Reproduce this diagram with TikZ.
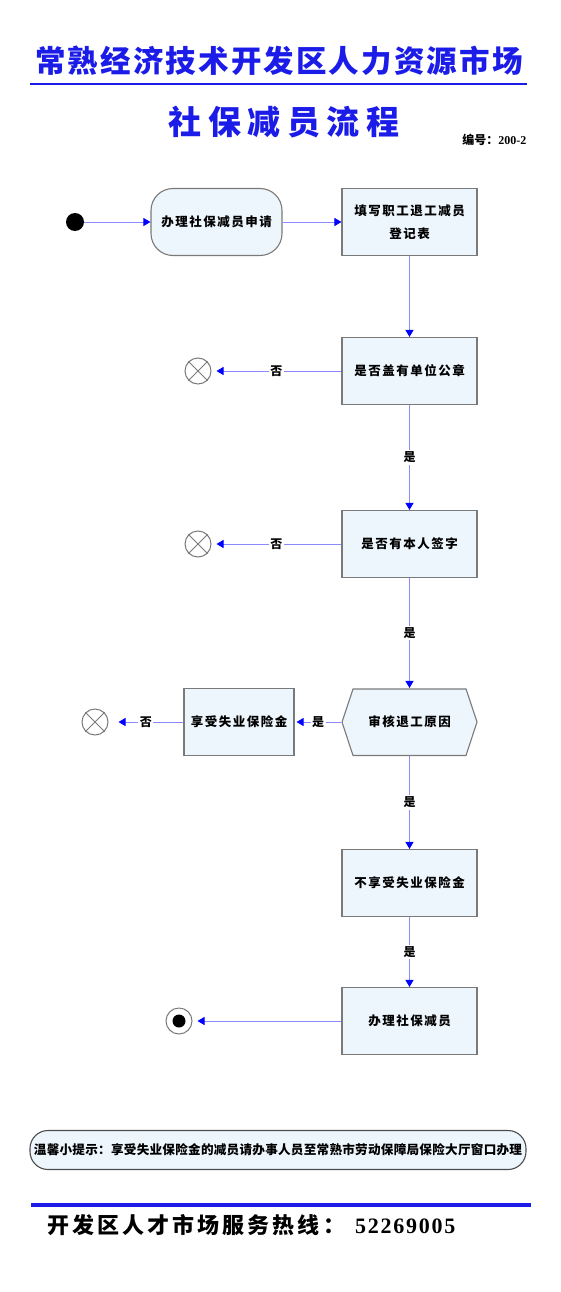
\documentclass[tikz,border=0pt]{standalone}
\usepackage{fontspec}
\setmainfont{Noto Sans CJK SC}
\newfontfamily\serifdig{Liberation Serif}
\usetikzlibrary{arrows.meta,shapes.geometric}
\definecolor{tblue}{HTML}{1C1CE8}
\definecolor{bfill}{HTML}{EEF6FD}
\definecolor{bdraw}{HTML}{7A7A7A}
\definecolor{lcol}{HTML}{8A8AFF}
\newcommand\boxfont{\fontsize{12.5}{23}\selectfont\bfseries\addfontfeature{LetterSpace=12}}
\newcommand\labfont{\fontsize{12}{12}\selectfont\bfseries}
\tikzset{
 box/.style={draw=bdraw, fill=bfill, line width=1.1pt, minimum width=135pt, minimum height=67pt, inner sep=0pt, align=center, font=\boxfont},
 conn/.style={draw=lcol, line width=0.9pt, -{Triangle[color=blue,length=7pt,width=8pt]}},
 lab/.style={fill=white, inner sep=1.5pt, font=\labfont},
 xcirc/.style={circle, draw=bdraw, fill=white, line width=1pt, minimum size=26pt, inner sep=0pt},
}
\begin{document}
\begin{tikzpicture}[x=1pt,y=-1pt]
\path[use as bounding box, fill=white] (0,0) rectangle (560,1292);
% header
\node[text=tblue, font={\fontsize{30.5}{30.5}\selectfont\bfseries\addfontfeature{LetterSpace=7}}] (t1) at (279,61) {常熟经济技术开发区人力资源市场};
\draw[tblue, line width=1.5pt] (30,84) -- (527,84);
\node[text=tblue, font={\fontsize{33}{33}\selectfont\bfseries\addfontfeature{LetterSpace=20}}] (t2) at (284,122) {社保减员流程};
\node[anchor=east, font={\fontsize{12}{12}\selectfont\bfseries}] (code) at (530,140) {编号：{\serifdig\bfseries 200-2}};
% flow nodes
\node[circle, fill=black, minimum size=18pt, inner sep=0pt] (start) at (75,222) {};
\node[box, rounded corners=22pt, minimum width=131pt] (apply) at (216.5,222) {办理社保减员申请};
\node[box] (fill) at (409.5,222) {填写职工退工减员\\登记表};
\node[box] (seal) at (409.5,371) {是否盖有单位公章};
\node[xcirc] (x1) at (198,371) {};
\node[box] (sign) at (409.5,544) {是否有本人签字};
\node[xcirc] (x2) at (198,544) {};
\filldraw[draw=bdraw, fill=bfill, line width=1.1pt] (342,722) -- (353,689) -- (466,689) -- (477,722) -- (466,755.5) -- (353,755.5) -- cycle;
\node[box, draw=none, fill=none] (review) at (409.5,722) {审核退工原因};
\node[box, minimum width=110pt] (enjoy) at (239,722) {享受失业保险金};
\node[xcirc] (x3) at (95,722) {};
\node[box] (noenjoy) at (409.5,883) {不享受失业保险金};
\node[box] (done) at (409.5,1021) {办理社保减员};
\node[xcirc] (end) at (179,1021) {};
\fill[black] (end.center) circle (6.5);
\foreach \c in {x1,x2,x3}{
  \draw[bdraw, line width=1pt] (\c.north west) -- (\c.south east);
  \draw[bdraw, line width=1pt] (\c.north east) -- (\c.south west);
}
% connectors
\draw[conn] (start) -- (apply);
\draw[conn] (apply) -- (fill);
\draw[conn] (fill) -- (seal);
\draw[conn, shorten >=5pt] (seal) -- node[lab]{否} (x1);
\draw[conn] (seal) -- node[lab]{是} (sign);
\draw[conn, shorten >=5pt] (sign) -- node[lab]{否} (x2);
\draw[conn] (sign) -- node[lab]{是} (review);
\draw[conn, shorten >=2pt] (review) -- node[lab]{是} (enjoy);
\draw[conn, shorten >=10pt] (enjoy) -- node[lab]{否} (x3);
\draw[conn] (review) -- node[lab]{是} (noenjoy);
\draw[conn] (noenjoy) -- node[lab]{是} (done);
\draw[conn, shorten >=5pt] (done) -- (end);
% note
\node[draw=black!70, fill=bfill, line width=1.1pt, rounded corners=18pt, minimum width=496pt, minimum height=39pt, inner sep=0pt, font={\fontsize{12.6}{12.6}\selectfont\bfseries\addfontfeature{LetterSpace=2}}] (tip) at (278,1150) {温馨小提示：享受失业保险金的减员请办事人员至常熟市劳动保障局保险大厅窗口办理};
\draw[tblue, line width=4pt] (31,1205) -- (531,1205);
\node[anchor=west, inner sep=0pt, font={\fontsize{22}{22}\selectfont\bfseries\addfontfeature{LetterSpace=14}}] (hot) at (47,1225) {开发区人才市场服务热线：\hspace{10pt}{\serifdig\bfseries\addfontfeature{LetterSpace=8}52269005}};
\end{tikzpicture}
\end{document}
